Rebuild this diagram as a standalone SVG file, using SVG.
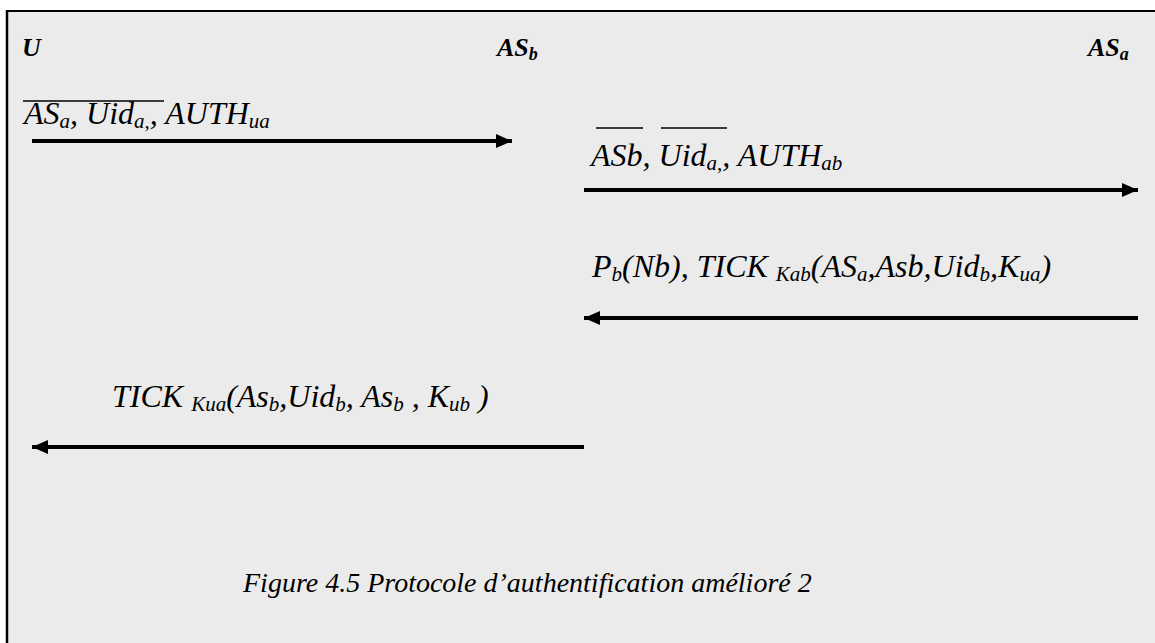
<svg xmlns="http://www.w3.org/2000/svg" width="1155" height="643" viewBox="0 0 1155 643">
<style>
.t{font-family:"Liberation Serif","Times New Roman",serif;font-style:italic;font-size:32px;fill:#000}
.h{font-family:"Liberation Serif","Times New Roman",serif;font-style:italic;font-weight:bold;font-size:26px;fill:#000}
.s{font-size:21px}
.hs{font-size:18px}
.ln{stroke:#000;stroke-width:4;fill:none}
.ov{stroke:#000;stroke-width:1.5}
.cap{font-family:"Liberation Serif","Times New Roman",serif;font-style:italic;font-size:28px;fill:#000}
</style>
<defs>
<marker id="ah" markerUnits="userSpaceOnUse" markerWidth="16" markerHeight="14" refX="16" refY="7" orient="auto">
<path d="M0,0 L16,7 L0,14 Z" fill="#000"/>
</marker>
</defs>
<rect x="0" y="0" width="1155" height="643" fill="#fff"/>
<rect x="7" y="11" width="1148" height="632" fill="#ebebeb"/>
<line x1="6" y1="11" x2="1155" y2="11" stroke="#000" stroke-width="2"/>
<line x1="7" y1="10" x2="7" y2="643" stroke="#000" stroke-width="2.5"/>
<g id="node-U"><text class="h" x="22" y="56">U</text></g>
<g id="node-ASb"><text class="h" x="497" y="56">AS<tspan class="hs" dy="4">b</tspan></text></g>
<g id="node-ASa"><text class="h" x="1088" y="56">AS<tspan class="hs" dy="4">a</tspan></text></g>
<g id="connectors">
<line class="ln" x1="32" y1="141" x2="512" y2="141" marker-end="url(#ah)"/>
<line class="ln" x1="584" y1="190" x2="1138" y2="190" marker-end="url(#ah)"/>
<line class="ln" x1="1138" y1="318" x2="584" y2="318" marker-end="url(#ah)"/>
<line class="ln" x1="584" y1="447" x2="32" y2="447" marker-end="url(#ah)"/>
</g>
<g id="msg1">
<text class="t" x="24" y="124">AS<tspan class="s" dy="4">a</tspan><tspan dy="-4">, Uid</tspan><tspan class="s" dy="4">a,</tspan><tspan dy="-4">, AUTH</tspan><tspan class="s" dy="4">ua</tspan></text>
<line class="ov" x1="23" y1="101" x2="164" y2="101"/>
</g>
<g id="msg2">
<text class="t" x="591" y="166">ASb, Uid<tspan class="s" dy="4">a,</tspan><tspan dy="-4">, AUTH</tspan><tspan class="s" dy="4">ab</tspan></text>
<line class="ov" x1="596" y1="128" x2="643" y2="128"/>
<line class="ov" x1="661" y1="128" x2="727" y2="128"/>
</g>
<g id="msg3">
<text class="t" x="592" y="277">P<tspan class="s" dy="4">b</tspan><tspan dy="-4">(Nb), TICK </tspan><tspan class="s" dy="4">Kab</tspan><tspan dy="-4">(AS</tspan><tspan class="s" dy="4">a</tspan><tspan dy="-4">,Asb,Uid</tspan><tspan class="s" dy="4">b</tspan><tspan dy="-4">,K</tspan><tspan class="s" dy="4">ua</tspan><tspan dy="-4">)</tspan></text>
</g>
<g id="msg4">
<text class="t" x="112" y="407">TICK <tspan class="s" dy="4">Kua</tspan><tspan dy="-4">(As</tspan><tspan class="s" dy="4">b</tspan><tspan dy="-4">,Uid</tspan><tspan class="s" dy="4">b</tspan><tspan dy="-4">, As</tspan><tspan class="s" dy="4">b</tspan><tspan dy="-4"> , K</tspan><tspan class="s" dy="4">ub</tspan><tspan dy="-4"> )</tspan></text>
</g>
<g id="caption">
<text class="cap" x="243" y="592">Figure 4.5 Protocole d’authentification amélioré 2</text>
</g>
</svg>
